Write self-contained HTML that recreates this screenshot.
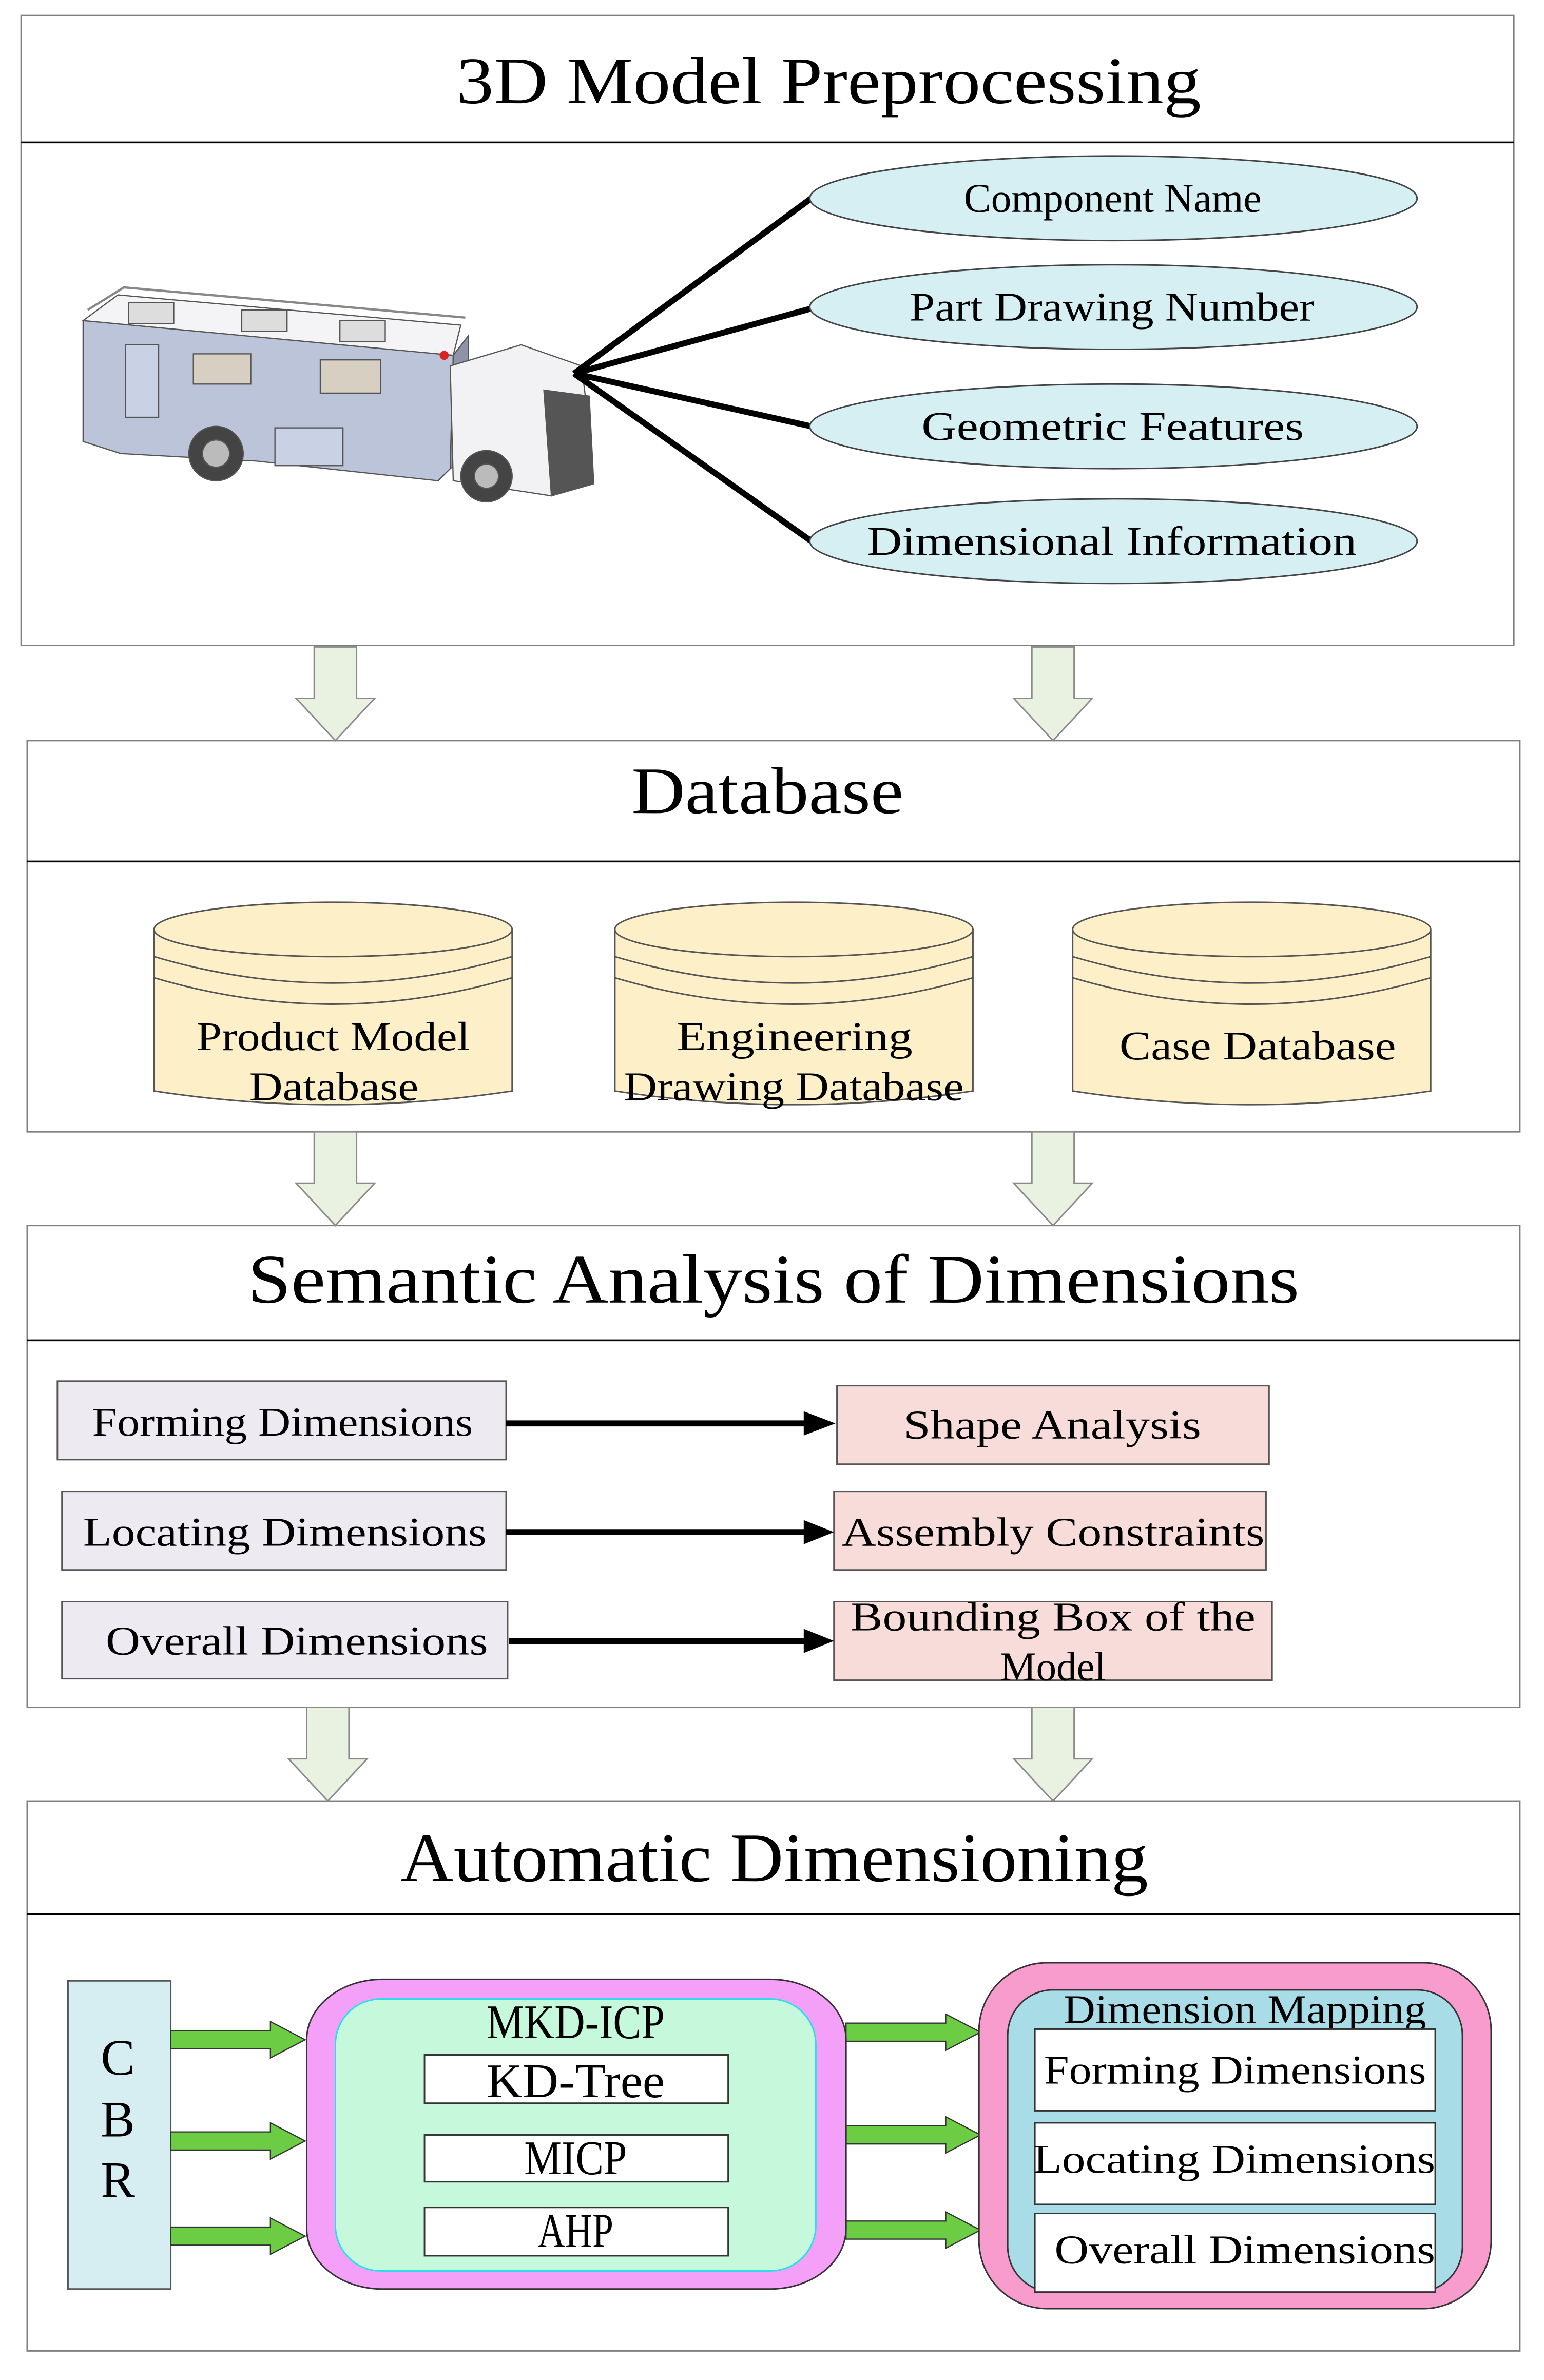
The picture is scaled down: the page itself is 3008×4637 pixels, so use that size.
<!DOCTYPE html>
<html><head><meta charset="utf-8"><style>
html,body{margin:0;padding:0;background:#fff}
svg{display:block}
text{font-family:"Liberation Serif","Noto Serif CJK SC",serif;fill:#000}
</style></head><body>
<svg width="3008" height="4637" viewBox="0 0 1022 1575" xmlns="http://www.w3.org/2000/svg">
<rect width="1022" height="1575" fill="#fff"/>
<g fill="none" stroke="#7f7f7f" stroke-width="1">
<rect x="14" y="10" width="988" height="417"/>
<rect x="18" y="490" width="988" height="259"/>
<rect x="18" y="811" width="988" height="319"/>
<rect x="18" y="1192" width="988" height="364"/>
</g>
<g stroke="#000" stroke-width="1.2">
<line x1="14" y1="94" x2="1002" y2="94"/>
<line x1="18" y1="570" x2="1006" y2="570"/>
<line x1="18" y1="887" x2="1006" y2="887"/>
<line x1="18" y1="1267" x2="1006" y2="1267"/>
</g>
<text x="302" y="68" font-size="44" textLength="493" lengthAdjust="spacingAndGlyphs">3D Model Preprocessing</text>
<text x="418" y="538" font-size="44" textLength="180" lengthAdjust="spacingAndGlyphs">Database</text>
<text x="164" y="862" font-size="46" textLength="696" lengthAdjust="spacingAndGlyphs">Semantic Analysis of Dimensions</text>
<text x="265" y="1245" font-size="46" textLength="495" lengthAdjust="spacingAndGlyphs">Automatic Dimensioning</text>

<!-- truck -->
<g stroke="#555" stroke-width="0.8">
<polygon points="55,212 78,195 305,215 300,235" fill="#f4f4f6"/>
<polyline points="58,205 82,190 308,210" fill="none" stroke="#888" stroke-width="1.5"/>
<polygon points="55,212 300,235 298,310 290,318 170,305 80,300 55,292" fill="#bcc4da"/>
<polygon points="300,235 310,222 310,300 298,310" fill="#8f93aa"/>
<polygon points="298,242 345,228 385,242 392,300 365,328 300,318" fill="#f2f2f4"/>
<polygon points="360,258 390,262 393,320 365,328" fill="#555"/>
<rect x="128" y="234" width="38" height="20" fill="#d6cfc2"/>
<rect x="212" y="238" width="40" height="22" fill="#d6cfc2"/>
<rect x="83" y="228" width="22" height="48" fill="#c9d1e4"/>
<rect x="182" y="283" width="45" height="25" fill="#c9d1e4"/>
<rect x="85" y="200" width="30" height="14" fill="#ddd"/>
<rect x="160" y="205" width="30" height="14" fill="#ddd"/>
<rect x="225" y="212" width="30" height="14" fill="#ddd"/>
<circle cx="143" cy="300" r="18" fill="#444"/>
<circle cx="143" cy="300" r="9" fill="#bbb"/>
<circle cx="322" cy="315" r="17" fill="#444"/>
<circle cx="322" cy="315" r="8" fill="#bbb"/>
<circle cx="294" cy="235" r="3" fill="#d22" stroke="none"/>
</g>
<g stroke="#000" stroke-width="4">
<line x1="380" y1="247" x2="537" y2="131"/>
<line x1="380" y1="247" x2="537" y2="204"/>
<line x1="380" y1="247" x2="537" y2="282"/>
<line x1="380" y1="247" x2="537" y2="358"/>
</g>
<g fill="#d6eff3" stroke="#444" stroke-width="1">
<ellipse cx="737" cy="131" rx="201" ry="28"/>
<ellipse cx="737" cy="203" rx="201" ry="28"/>
<ellipse cx="737" cy="282" rx="201" ry="28"/>
<ellipse cx="737" cy="358" rx="201" ry="28"/>
</g>
<g font-size="27">
<text x="638" y="140" textLength="197" lengthAdjust="spacingAndGlyphs">Component Name</text>
<text x="602" y="212" textLength="268" lengthAdjust="spacingAndGlyphs">Part Drawing Number</text>
<text x="610" y="291" textLength="253" lengthAdjust="spacingAndGlyphs">Geometric Features</text>
<text x="574" y="367" textLength="324" lengthAdjust="spacingAndGlyphs">Dimensional Information</text>
</g>

<defs>
<path id="ha" d="M-14,0 H14 V34 H26 L0,62 L-26,34 H-14 Z" fill="#e9f1e1" stroke="#8a8a8a" stroke-width="1"/>
</defs>
<use href="#ha" x="222" y="428"/>
<use href="#ha" x="697" y="428"/>
<use href="#ha" x="222" y="749"/>
<use href="#ha" x="697" y="749"/>
<use href="#ha" x="217" y="1130"/>
<use href="#ha" x="697" y="1130"/>

<g fill="#fdf0c8" stroke="#555" stroke-width="1">
<path d="M102,615 V722 Q220,740 339,722 V615"/>
<ellipse cx="220.5" cy="615" rx="118.5" ry="18"/>
<path d="M102,633 Q220,668 339,633" fill="none"/>
<path d="M102,647 Q220,682 339,647" fill="none"/>
<path d="M407,615 V722 Q525,740 644,722 V615"/>
<ellipse cx="525.5" cy="615" rx="118.5" ry="18"/>
<path d="M407,633 Q525,668 644,633" fill="none"/>
<path d="M407,647 Q525,682 644,647" fill="none"/>
<path d="M710,615 V722 Q828,740 947,722 V615"/>
<ellipse cx="828.5" cy="615" rx="118.5" ry="18"/>
<path d="M710,633 Q828,668 947,633" fill="none"/>
<path d="M710,647 Q828,682 947,647" fill="none"/>
</g>
<g font-size="27">
<text x="130" y="695" textLength="181" lengthAdjust="spacingAndGlyphs">Product Model</text>
<text x="165" y="728" textLength="112" lengthAdjust="spacingAndGlyphs">Database</text>
<text x="448" y="695" textLength="156" lengthAdjust="spacingAndGlyphs">Engineering</text>
<text x="413" y="728" textLength="225" lengthAdjust="spacingAndGlyphs">Drawing Database</text>
<text x="741" y="701" textLength="183" lengthAdjust="spacingAndGlyphs">Case Database</text>
</g>

<g stroke="#555" stroke-width="1">
<rect x="38" y="914" width="297" height="52" fill="#eeeaf2"/>
<rect x="41" y="987" width="294" height="52" fill="#eeeaf2"/>
<rect x="41" y="1060" width="295" height="51" fill="#eeeaf2"/>
<rect x="554" y="917" width="286" height="52" fill="#f8dcda"/>
<rect x="552" y="987" width="286" height="52" fill="#f8dcda"/>
<rect x="552" y="1060" width="290" height="52" fill="#f8dcda"/>
</g>
<g stroke="#000" stroke-width="4">
<line x1="335" y1="942" x2="535" y2="942"/>
<line x1="335" y1="1014" x2="535" y2="1014"/>
<line x1="337" y1="1086" x2="535" y2="1086"/>
</g>
<g fill="#000">
<polygon points="532,934 553,942 532,950"/>
<polygon points="532,1006 552,1014 532,1022"/>
<polygon points="532,1078 552,1086 532,1094"/>
</g>
<g font-size="27">
<text x="61" y="950" textLength="252" lengthAdjust="spacingAndGlyphs">Forming Dimensions</text>
<text x="55" y="1023" textLength="267" lengthAdjust="spacingAndGlyphs">Locating Dimensions</text>
<text x="70" y="1095" textLength="253" lengthAdjust="spacingAndGlyphs">Overall Dimensions</text>
<text x="598" y="952" textLength="197" lengthAdjust="spacingAndGlyphs">Shape Analysis</text>
<text x="557" y="1023" textLength="280" lengthAdjust="spacingAndGlyphs">Assembly Constraints</text>
<text x="563" y="1079" textLength="268" lengthAdjust="spacingAndGlyphs">Bounding Box of the</text>
<text x="662" y="1112" textLength="70" lengthAdjust="spacingAndGlyphs">Model</text>
</g>

<rect x="45" y="1311" width="68" height="204" fill="#d6eef2" stroke="#555" stroke-width="1"/>
<g font-size="34" text-anchor="middle">
<text x="78" y="1373">C</text>
<text x="78" y="1414">B</text>
<text x="78" y="1454">R</text>
</g>
<defs>
<path id="ga2" d="M0,-6 H66 V-12 L89,0 L66,12 V6 H0 Z" fill="#6ccc44" stroke="#333" stroke-width="0.8"/>
</defs>
<use href="#ga2" x="113" y="1350"/>
<use href="#ga2" x="113" y="1417"/>
<use href="#ga2" x="113" y="1480"/>
<use href="#ga2" x="560" y="1345"/>
<use href="#ga2" x="560" y="1413"/>
<use href="#ga2" x="560" y="1476"/>

<rect x="203" y="1310" width="357" height="205" rx="50" ry="40" fill="#f4a0f8" stroke="#333" stroke-width="1"/>
<rect x="222" y="1323" width="318" height="180" rx="30" ry="30" fill="#c6f8dc" stroke="#22e0e8" stroke-width="1"/>
<text x="322" y="1349" font-size="32" textLength="118" lengthAdjust="spacingAndGlyphs">MKD-ICP</text>
<g fill="#fff" stroke="#333" stroke-width="1">
<rect x="281" y="1360" width="201" height="32"/>
<rect x="281" y="1413" width="201" height="31"/>
<rect x="281" y="1461" width="201" height="32"/>
</g>
<g font-size="32">
<text x="322" y="1388" textLength="118" lengthAdjust="spacingAndGlyphs">KD-Tree</text>
<text x="347" y="1439" textLength="68" lengthAdjust="spacingAndGlyphs">MICP</text>
<text x="356" y="1487" textLength="50" lengthAdjust="spacingAndGlyphs">AHP</text>
</g>

<rect x="648" y="1299" width="339" height="229" rx="45" ry="45" fill="#f79ccc" stroke="#333" stroke-width="1"/>
<rect x="667" y="1317" width="301" height="200" rx="30" ry="30" fill="#a8dde8" stroke="#333" stroke-width="1"/>
<text x="704" y="1339" font-size="27" textLength="240" lengthAdjust="spacingAndGlyphs">Dimension Mapping</text>
<g fill="#fff" stroke="#333" stroke-width="1">
<rect x="685" y="1343" width="265" height="54"/>
<rect x="685" y="1405" width="265" height="54"/>
<rect x="685" y="1465" width="265" height="52"/>
</g>
<g font-size="27">
<text x="691" y="1379" textLength="253" lengthAdjust="spacingAndGlyphs">Forming Dimensions</text>
<text x="684" y="1438" textLength="266" lengthAdjust="spacingAndGlyphs">Locating Dimensions</text>
<text x="698" y="1498" textLength="252" lengthAdjust="spacingAndGlyphs">Overall Dimensions</text>
</g>
</svg>
</body></html>
